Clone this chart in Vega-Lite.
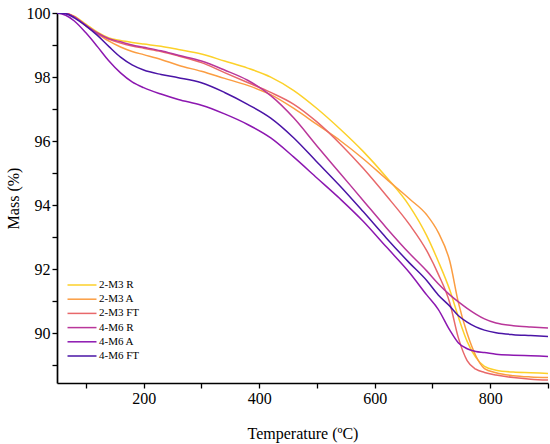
{
 "$schema": "https://vega.github.io/schema/vega-lite/v6.json",
 "width": 491, "height": 370,
 "autosize": {"type": "none"},
 "padding": {"left": 57, "top": 13, "right": 2, "bottom": 61},
 "background": "white",
 "config": {
  "view": {"stroke": null},
  "font": "Liberation Serif",
  "axis": {"domainColor": "black", "domainWidth": 1.7, "tickColor": "black", "tickWidth": 1.3, "tickSize": 5, "labelColor": "black", "labelFontSize": 16, "labelFont": "Liberation Serif", "titleFont": "Liberation Serif", "titleFontSize": 16, "titleFontWeight": "normal", "titleColor": "black", "grid": false, "labelOverlap": false, "labelFlush": false}
 },
 "data": {"values": [
{"s":"2-M3 R","T":50,"M":100},{"s":"2-M3 R","T":65,"M":99.99},{"s":"2-M3 R","T":80,"M":99.9},{"s":"2-M3 R","T":100,"M":99.65},{"s":"2-M3 R","T":120,"M":99.4},{"s":"2-M3 R","T":140,"M":99.22},{"s":"2-M3 R","T":160,"M":99.14},{"s":"2-M3 R","T":180,"M":99.08},{"s":"2-M3 R","T":200,"M":99.03},{"s":"2-M3 R","T":230,"M":98.96},{"s":"2-M3 R","T":260,"M":98.86},{"s":"2-M3 R","T":300,"M":98.72},{"s":"2-M3 R","T":340,"M":98.5},{"s":"2-M3 R","T":380,"M":98.28},{"s":"2-M3 R","T":420,"M":98.0},{"s":"2-M3 R","T":460,"M":97.58},{"s":"2-M3 R","T":500,"M":97.02},{"s":"2-M3 R","T":540,"M":96.38},{"s":"2-M3 R","T":580,"M":95.68},{"s":"2-M3 R","T":620,"M":94.88},{"s":"2-M3 R","T":660,"M":93.98},{"s":"2-M3 R","T":690,"M":93.05},{"s":"2-M3 R","T":710,"M":92.25},{"s":"2-M3 R","T":730,"M":91.35},{"s":"2-M3 R","T":745,"M":90.5},{"s":"2-M3 R","T":760,"M":89.75},{"s":"2-M3 R","T":775,"M":89.25},{"s":"2-M3 R","T":790,"M":88.97},{"s":"2-M3 R","T":810,"M":88.85},{"s":"2-M3 R","T":840,"M":88.79},{"s":"2-M3 R","T":870,"M":88.77},{"s":"2-M3 R","T":900,"M":88.75},
{"s":"2-M3 A","T":50,"M":100},{"s":"2-M3 A","T":65,"M":99.99},{"s":"2-M3 A","T":80,"M":99.88},{"s":"2-M3 A","T":100,"M":99.6},{"s":"2-M3 A","T":120,"M":99.35},{"s":"2-M3 A","T":140,"M":99.12},{"s":"2-M3 A","T":160,"M":98.94},{"s":"2-M3 A","T":180,"M":98.8},{"s":"2-M3 A","T":200,"M":98.7},{"s":"2-M3 A","T":230,"M":98.55},{"s":"2-M3 A","T":260,"M":98.37},{"s":"2-M3 A","T":300,"M":98.18},{"s":"2-M3 A","T":340,"M":97.96},{"s":"2-M3 A","T":380,"M":97.74},{"s":"2-M3 A","T":420,"M":97.45},{"s":"2-M3 A","T":460,"M":97.02},{"s":"2-M3 A","T":500,"M":96.52},{"s":"2-M3 A","T":540,"M":96.02},{"s":"2-M3 A","T":580,"M":95.45},{"s":"2-M3 A","T":620,"M":94.82},{"s":"2-M3 A","T":660,"M":94.2},{"s":"2-M3 A","T":690,"M":93.7},{"s":"2-M3 A","T":710,"M":93.15},{"s":"2-M3 A","T":730,"M":92.25},{"s":"2-M3 A","T":745,"M":90.95},{"s":"2-M3 A","T":760,"M":90.0},{"s":"2-M3 A","T":775,"M":89.3},{"s":"2-M3 A","T":790,"M":88.9},{"s":"2-M3 A","T":810,"M":88.77},{"s":"2-M3 A","T":840,"M":88.68},{"s":"2-M3 A","T":870,"M":88.64},{"s":"2-M3 A","T":900,"M":88.62},
{"s":"2-M3 FT","T":50,"M":100},{"s":"2-M3 FT","T":65,"M":99.99},{"s":"2-M3 FT","T":80,"M":99.88},{"s":"2-M3 FT","T":100,"M":99.6},{"s":"2-M3 FT","T":120,"M":99.35},{"s":"2-M3 FT","T":140,"M":99.18},{"s":"2-M3 FT","T":160,"M":99.06},{"s":"2-M3 FT","T":180,"M":98.97},{"s":"2-M3 FT","T":200,"M":98.9},{"s":"2-M3 FT","T":230,"M":98.8},{"s":"2-M3 FT","T":260,"M":98.66},{"s":"2-M3 FT","T":300,"M":98.45},{"s":"2-M3 FT","T":340,"M":98.14},{"s":"2-M3 FT","T":380,"M":97.83},{"s":"2-M3 FT","T":420,"M":97.52},{"s":"2-M3 FT","T":460,"M":97.15},{"s":"2-M3 FT","T":500,"M":96.6},{"s":"2-M3 FT","T":540,"M":95.92},{"s":"2-M3 FT","T":580,"M":95.15},{"s":"2-M3 FT","T":620,"M":94.3},{"s":"2-M3 FT","T":660,"M":93.4},{"s":"2-M3 FT","T":690,"M":92.58},{"s":"2-M3 FT","T":710,"M":91.85},{"s":"2-M3 FT","T":730,"M":90.95},{"s":"2-M3 FT","T":745,"M":89.85},{"s":"2-M3 FT","T":760,"M":89.15},{"s":"2-M3 FT","T":775,"M":88.88},{"s":"2-M3 FT","T":790,"M":88.78},{"s":"2-M3 FT","T":810,"M":88.7},{"s":"2-M3 FT","T":840,"M":88.62},{"s":"2-M3 FT","T":870,"M":88.57},{"s":"2-M3 FT","T":900,"M":88.54},
{"s":"4-M6 R","T":50,"M":100},{"s":"4-M6 R","T":65,"M":99.99},{"s":"4-M6 R","T":80,"M":99.88},{"s":"4-M6 R","T":100,"M":99.62},{"s":"4-M6 R","T":120,"M":99.38},{"s":"4-M6 R","T":140,"M":99.2},{"s":"4-M6 R","T":160,"M":99.1},{"s":"4-M6 R","T":180,"M":99.0},{"s":"4-M6 R","T":200,"M":98.93},{"s":"4-M6 R","T":230,"M":98.82},{"s":"4-M6 R","T":260,"M":98.68},{"s":"4-M6 R","T":300,"M":98.5},{"s":"4-M6 R","T":340,"M":98.22},{"s":"4-M6 R","T":380,"M":97.9},{"s":"4-M6 R","T":420,"M":97.42},{"s":"4-M6 R","T":460,"M":96.72},{"s":"4-M6 R","T":500,"M":95.85},{"s":"4-M6 R","T":540,"M":95.0},{"s":"4-M6 R","T":580,"M":94.15},{"s":"4-M6 R","T":620,"M":93.3},{"s":"4-M6 R","T":660,"M":92.5},{"s":"4-M6 R","T":690,"M":91.95},{"s":"4-M6 R","T":710,"M":91.55},{"s":"4-M6 R","T":730,"M":91.2},{"s":"4-M6 R","T":745,"M":90.98},{"s":"4-M6 R","T":760,"M":90.78},{"s":"4-M6 R","T":775,"M":90.6},{"s":"4-M6 R","T":790,"M":90.45},{"s":"4-M6 R","T":810,"M":90.32},{"s":"4-M6 R","T":840,"M":90.24},{"s":"4-M6 R","T":870,"M":90.2},{"s":"4-M6 R","T":900,"M":90.17},
{"s":"4-M6 A","T":50,"M":100},{"s":"4-M6 A","T":65,"M":99.93},{"s":"4-M6 A","T":80,"M":99.75},{"s":"4-M6 A","T":100,"M":99.38},{"s":"4-M6 A","T":120,"M":98.95},{"s":"4-M6 A","T":140,"M":98.5},{"s":"4-M6 A","T":160,"M":98.13},{"s":"4-M6 A","T":180,"M":97.85},{"s":"4-M6 A","T":200,"M":97.67},{"s":"4-M6 A","T":230,"M":97.47},{"s":"4-M6 A","T":260,"M":97.3},{"s":"4-M6 A","T":300,"M":97.12},{"s":"4-M6 A","T":340,"M":96.85},{"s":"4-M6 A","T":380,"M":96.52},{"s":"4-M6 A","T":420,"M":96.1},{"s":"4-M6 A","T":460,"M":95.5},{"s":"4-M6 A","T":500,"M":94.85},{"s":"4-M6 A","T":540,"M":94.2},{"s":"4-M6 A","T":580,"M":93.5},{"s":"4-M6 A","T":620,"M":92.7},{"s":"4-M6 A","T":660,"M":91.9},{"s":"4-M6 A","T":690,"M":91.2},{"s":"4-M6 A","T":710,"M":90.75},{"s":"4-M6 A","T":730,"M":90.1},{"s":"4-M6 A","T":745,"M":89.7},{"s":"4-M6 A","T":760,"M":89.52},{"s":"4-M6 A","T":775,"M":89.43},{"s":"4-M6 A","T":790,"M":89.4},{"s":"4-M6 A","T":810,"M":89.35},{"s":"4-M6 A","T":840,"M":89.32},{"s":"4-M6 A","T":870,"M":89.3},{"s":"4-M6 A","T":900,"M":89.28},
{"s":"4-M6 FT","T":50,"M":100},{"s":"4-M6 FT","T":65,"M":99.98},{"s":"4-M6 FT","T":80,"M":99.85},{"s":"4-M6 FT","T":100,"M":99.6},{"s":"4-M6 FT","T":120,"M":99.3},{"s":"4-M6 FT","T":140,"M":98.95},{"s":"4-M6 FT","T":160,"M":98.62},{"s":"4-M6 FT","T":180,"M":98.38},{"s":"4-M6 FT","T":200,"M":98.22},{"s":"4-M6 FT","T":230,"M":98.08},{"s":"4-M6 FT","T":260,"M":97.98},{"s":"4-M6 FT","T":300,"M":97.82},{"s":"4-M6 FT","T":340,"M":97.52},{"s":"4-M6 FT","T":380,"M":97.15},{"s":"4-M6 FT","T":420,"M":96.72},{"s":"4-M6 FT","T":460,"M":96.1},{"s":"4-M6 FT","T":500,"M":95.35},{"s":"4-M6 FT","T":540,"M":94.6},{"s":"4-M6 FT","T":580,"M":93.8},{"s":"4-M6 FT","T":620,"M":92.98},{"s":"4-M6 FT","T":660,"M":92.2},{"s":"4-M6 FT","T":690,"M":91.65},{"s":"4-M6 FT","T":710,"M":91.2},{"s":"4-M6 FT","T":730,"M":90.85},{"s":"4-M6 FT","T":745,"M":90.55},{"s":"4-M6 FT","T":760,"M":90.35},{"s":"4-M6 FT","T":775,"M":90.2},{"s":"4-M6 FT","T":790,"M":90.1},{"s":"4-M6 FT","T":810,"M":90.02},{"s":"4-M6 FT","T":840,"M":89.96},{"s":"4-M6 FT","T":870,"M":89.93},{"s":"4-M6 FT","T":900,"M":89.9}
 ]},
 "mark": {"type": "line", "strokeWidth": 1.5, "interpolate": "monotone", "clip": true},
 "encoding": {
  "x": {"field": "T", "type": "quantitative",
   "scale": {"domain": [50, 900], "nice": false, "zero": false},
   "axis": {"title": "Temperature (ºC)", "values": [100,200,300,400,500,600,700,800,900], "labelExpr": "datum.value % 200 === 0 ? datum.label : ''", "labelPadding": 2, "titlePadding": 19}},
  "y": {"field": "M", "type": "quantitative",
   "scale": {"domain": [88.45, 100], "nice": false, "zero": false},
   "axis": {"title": "Mass (%)", "values": [89,90,91,92,93,94,95,96,97,98,99,100], "labelExpr": "datum.value % 2 === 0 ? datum.label : ''", "labelPadding": 2, "titlePadding": 5}},
  "color": {"field": "s", "type": "nominal",
   "scale": {"domain": ["2-M3 R","2-M3 A","2-M3 FT","4-M6 R","4-M6 A","4-M6 FT"], "range": ["#fcd12a","#fb9d42","#e8686a","#b9369a","#8c17b0","#4a14a6"]},
   "legend": {"orient": "none", "legendX": 17, "legendY": 264, "title": null, "symbolType": "M-2,0H2", "symbolSize": 210, "symbolStrokeWidth": 1.5, "labelFontSize": 11, "labelFont": "Liberation Serif", "labelColor": "black", "labelOffset": 9, "rowPadding": 1.2, "padding": 0}}
 }
}
